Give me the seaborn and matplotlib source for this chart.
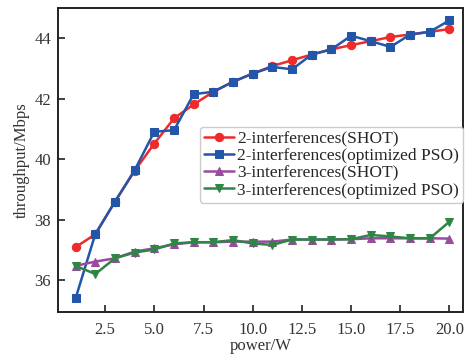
import numpy as np
import pandas as pd
import seaborn as sns
import matplotlib.pyplot as plt

# power values (W)
power = list(range(1, 21))

shot_2 = [37.10, 37.52, 38.60, 39.62, 40.52, 41.35, 41.81, 42.23, 42.56, 42.83,
          43.08, 43.27, 43.46, 43.63, 43.77, 43.90, 44.04, 44.12, 44.21, 44.30]
pso_2 = [35.41, 37.53, 38.60, 39.64, 40.91, 40.96, 42.15, 42.23, 42.56, 42.83,
         43.05, 42.97, 43.46, 43.63, 44.08, 43.90, 43.71, 44.12, 44.21, 44.59]
shot_3 = [36.48, 36.62, 36.73, 36.95, 37.06, 37.19, 37.26, 37.26, 37.28, 37.28,
          37.28, 37.35, 37.35, 37.35, 37.36, 37.39, 37.39, 37.39, 37.39, 37.38]
pso_3 = [36.48, 36.21, 36.73, 36.92, 37.02, 37.22, 37.26, 37.26, 37.33, 37.22,
         37.17, 37.35, 37.35, 37.35, 37.36, 37.50, 37.45, 37.39, 37.39, 37.94]

labels = ['2-interferences(SHOT)', '2-interferences(optimized PSO)',
          '3-interferences(SHOT)', '3-interferences(optimized PSO)']
colors = ['#ee2a2a', '#2356a8', '#9a4aa0', '#2e8545']
markers = ['o', 's', '^', 'v']

sns.set_style('ticks')
plt.rcParams['font.family'] = ['Liberation Serif', 'DejaVu Serif']

fig, ax = plt.subplots(figsize=(4.67, 3.58), dpi=100)

for vals, lab, c, m in zip([shot_2, pso_2, shot_3, pso_3], labels, colors, markers):
    df = pd.DataFrame({'power': power, 'throughput': vals})
    sns.lineplot(data=df, x='power', y='throughput', ax=ax, label=lab, color=c,
                 marker=m, markersize=6, markeredgecolor=c, linewidth=1.8)

ax.set_xlim(0.1, 20.7)
ax.set_ylim(34.95, 45.0)
ax.set_xticks([2.5, 5.0, 7.5, 10.0, 12.5, 15.0, 17.5, 20.0])
ax.set_yticks([36, 38, 40, 42, 44])
ax.tick_params(direction='in', labelsize=12, width=1.3, length=5, colors='#333333')
ax.tick_params(axis='x', pad=7)
ax.tick_params(axis='y', pad=5)
for s in ax.spines.values():
    s.set_linewidth(1.4)
    s.set_color('#222222')
ax.set_xlabel('power/W', fontsize=12, color='#333333', labelpad=0)
ax.set_ylabel('throughput/Mbps', fontsize=12, color='#333333', labelpad=3)

ax.legend(loc='center right', bbox_to_anchor=(1.0, 0.484), borderaxespad=0,
          fontsize=12.5, handlelength=1.7, handletextpad=0.2, borderpad=0.25,
          labelspacing=0.05, frameon=True, fancybox=True, framealpha=1,
          edgecolor='#cccccc')

fig.subplots_adjust(left=0.124, right=0.992, top=0.978, bottom=0.128)
fig.savefig('out.png', dpi=100)
